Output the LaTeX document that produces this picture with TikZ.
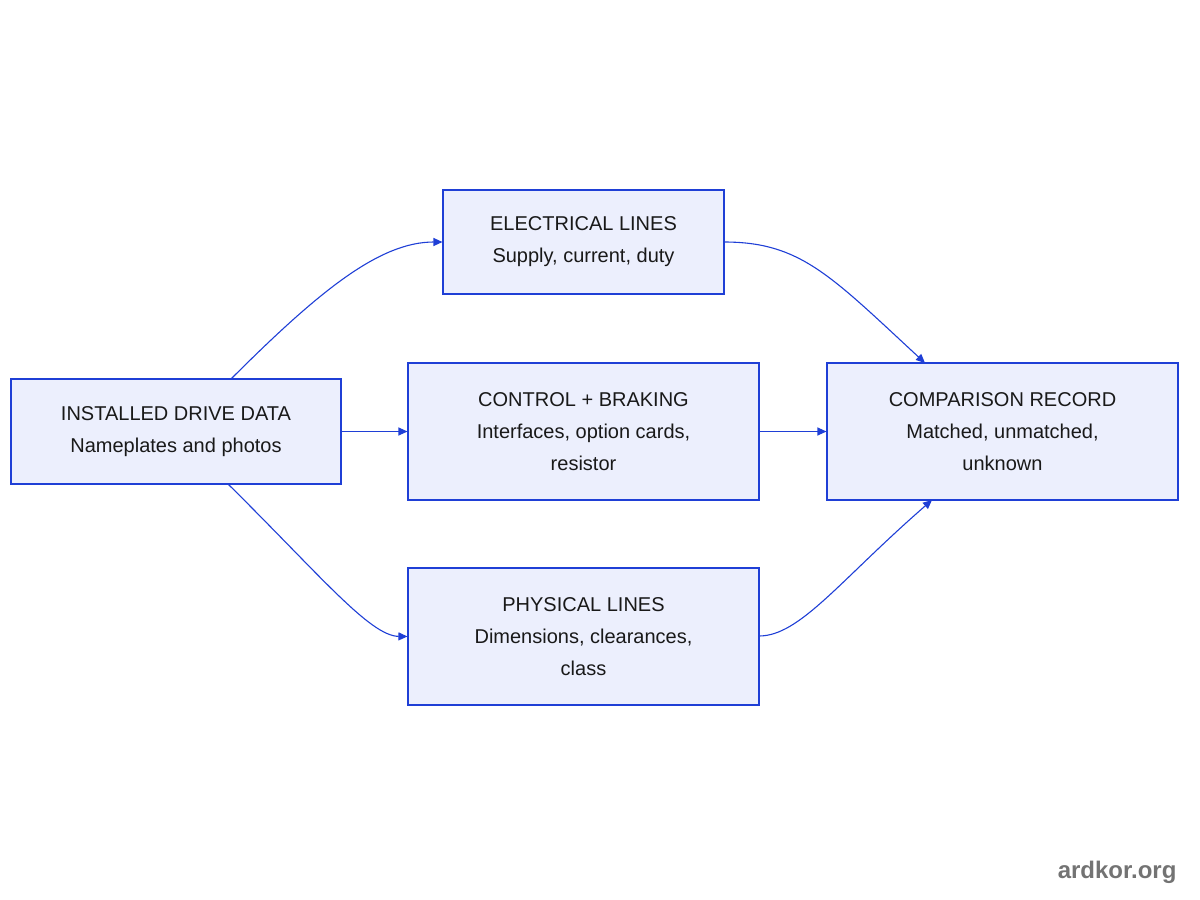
\documentclass[tikz,border=0pt]{standalone}
\usepackage{fontspec}
\setmainfont{Liberation Sans}
\usetikzlibrary{arrows.meta,calc}
\definecolor{bfill}{HTML}{ECEFFD}
\definecolor{bline}{HTML}{1F3FD6}
\begin{document}
\begin{tikzpicture}[x=1pt,y=-1pt,
  box/.style={draw=bline,fill=bfill,line width=1.1pt,align=center,inner sep=0pt,
    font=\fontsize{20}{32}\selectfont,text=black!90},
  edge/.style={draw=bline,line width=1.1pt,-{Triangle[length=9pt,width=8pt]}}]
\useasboundingbox (0,0) rectangle (1200,900);
\node[box,minimum width=330,minimum height=105] (A) at (176,431.5) {INSTALLED DRIVE DATA\\Nameplates and photos};
\node[box,minimum width=281,minimum height=104] (E) at (583.5,242) {ELECTRICAL LINES\\Supply, current, duty};
\node[box,minimum width=351,minimum height=137] (C) at (583.5,431.5) {CONTROL + BRAKING\\Interfaces, option cards,\\resistor};
\node[box,minimum width=351,minimum height=137] (P) at (583.5,636.5) {PHYSICAL LINES\\Dimensions, clearances,\\class};
\node[box,minimum width=351,minimum height=137] (R) at (1002.5,431.5) {COMPARISON RECORD\\Matched, unmatched,\\unknown};
\coordinate (a1) at (231,379);
\coordinate (a2) at (228,484);
\coordinate (e1) at (724,242);
\coordinate (r1) at (925,363);
\coordinate (r2) at (932,500);
\coordinate (p1) at (759,636);
\draw[edge] (a1) .. controls (320,290) and (380,242) .. (E.west);
\draw[edge] (A.east) -- (C.west);
\draw[edge] (a2) .. controls (320,575) and (370,636) .. (P.west);
\draw[edge] (e1) .. controls (800,242) and (830,275) .. (r1);
\draw[edge] (C.east) -- (R.west);
\draw[edge] (p1) .. controls (800,636) and (840,580) .. (r2);
\node[anchor=east,font=\bfseries\fontsize{24}{28}\selectfont,text=black!55] (W) at (1180,872) {ardkor.org};
\end{tikzpicture}
\end{document}
